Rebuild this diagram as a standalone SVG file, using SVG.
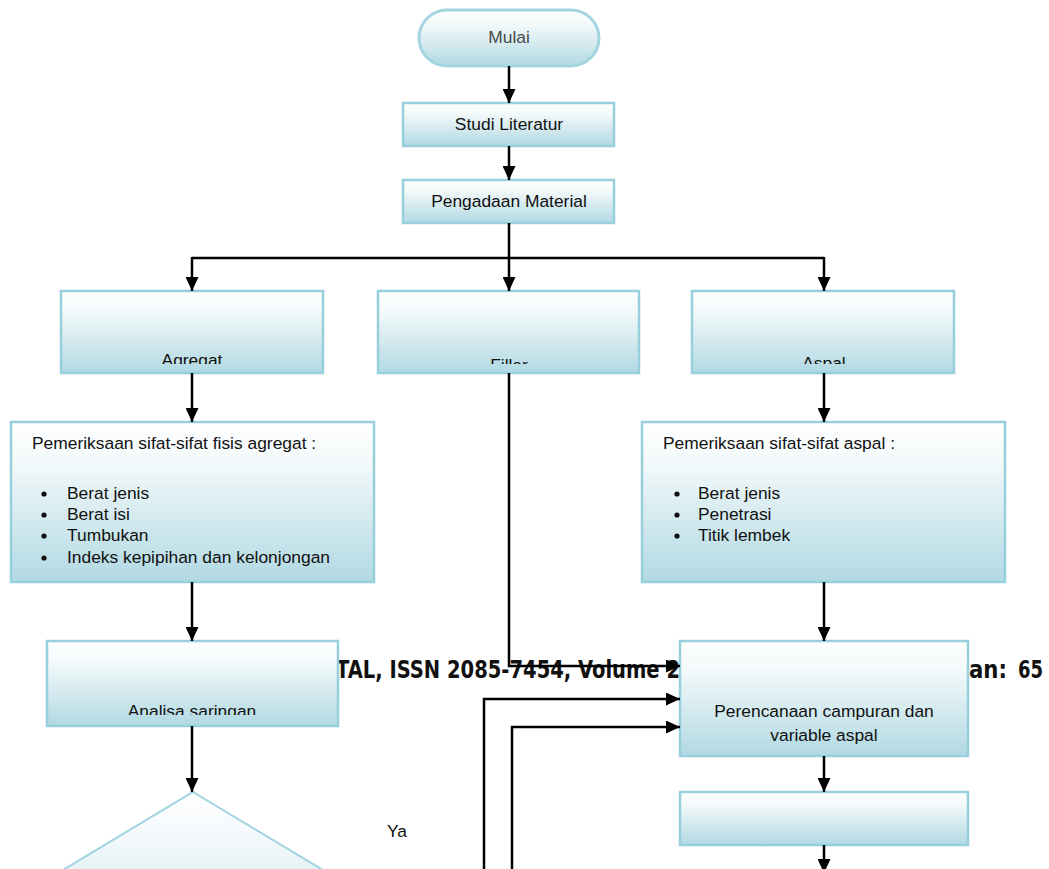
<svg xmlns="http://www.w3.org/2000/svg" width="1049" height="869" viewBox="0 0 1049 869">
<style>
.box{fill:url(#g);stroke:#98cfdc;stroke-width:2.5}
.t{font-family:"Liberation Sans",Arial,sans-serif;font-size:17.4px;fill:#111}
.c{text-anchor:middle}
.hd{font-family:"Liberation Sans Narrow","DejaVu Sans Condensed","Liberation Sans",sans-serif;font-weight:bold;font-size:25px;fill:#111}
.ln{fill:none;stroke:#000;stroke-width:2.5}
.ar{marker-end:url(#ah)}
</style>
<defs>
<linearGradient id="g" x1="0" y1="0" x2="0" y2="1">
<stop offset="0" stop-color="#ffffff"/>
<stop offset="0.25" stop-color="#f3f9fa"/>
<stop offset="1" stop-color="#b1d9e3"/>
</linearGradient>
<linearGradient id="gd" x1="0" y1="792" x2="0" y2="1032" gradientUnits="userSpaceOnUse">
<stop offset="0" stop-color="#ffffff"/>
<stop offset="0.15" stop-color="#f6fafc"/>
<stop offset="1" stop-color="#b1d9e3"/>
</linearGradient>
<marker id="ah" markerUnits="userSpaceOnUse" markerWidth="14" markerHeight="13" refX="14" refY="6.5" orient="auto">
<path d="M0,0 L14,6.5 L0,13 z" fill="#000"/>
</marker>
<clipPath id="c1"><rect x="40" y="280" width="960" height="84"/></clipPath>
<clipPath id="c2"><rect x="40" y="640" width="320" height="75"/></clipPath>
</defs>

<g id="header">
<text class="hd" x="336" y="678" textLength="344" lengthAdjust="spacingAndGlyphs">TAL, ISSN 2085-7454, Volume 2</text>
<text class="hd" x="969" y="678" textLength="38" lengthAdjust="spacingAndGlyphs">an:</text>
<text class="hd" x="1018" y="678" textLength="25" lengthAdjust="spacingAndGlyphs">65</text>
</g>

<g id="mulai">
<rect x="419" y="10" width="180" height="56" rx="28" ry="28" fill="url(#g)" stroke="#a3d5e0" stroke-width="3"/>
<text class="t c" x="509" y="43" style="fill:#4a4a4a">Mulai</text>
</g>
<g id="studi">
<rect class="box" x="403" y="103" width="211" height="43"/>
<text class="t c" x="509" y="130">Studi Literatur</text>
</g>
<g id="pengadaan">
<rect class="box" x="403" y="180" width="211" height="43"/>
<text class="t c" x="509" y="207">Pengadaan Material</text>
</g>
<g id="agregat">
<rect class="box" x="61" y="291" width="262" height="82"/>
<text class="t c" x="192" y="366" clip-path="url(#c1)">Agregat</text>
</g>
<g id="filler">
<rect class="box" x="378" y="291" width="261" height="82"/>
<text class="t c" x="509" y="371" clip-path="url(#c1)">Filler</text>
</g>
<g id="aspal">
<rect class="box" x="692" y="291" width="262" height="82"/>
<text class="t c" x="824" y="369" clip-path="url(#c1)">Aspal</text>
</g>
<g id="periksa-agregat">
<rect class="box" x="11" y="422" width="363" height="160"/>
<text class="t" x="32" y="449">Pemeriksaan sifat-sifat fisis agregat :</text>
<g fill="#111">
<circle cx="44" cy="494" r="2.6"/><circle cx="44" cy="515" r="2.6"/><circle cx="44" cy="536" r="2.6"/><circle cx="44" cy="558" r="2.6"/>
</g>
<text class="t" x="67" y="499">Berat jenis</text>
<text class="t" x="67" y="520">Berat isi</text>
<text class="t" x="67" y="541">Tumbukan</text>
<text class="t" x="67" y="563">Indeks kepipihan dan kelonjongan</text>
</g>
<g id="periksa-aspal">
<rect class="box" x="642" y="422" width="363" height="160"/>
<text class="t" x="663" y="449">Pemeriksaan sifat-sifat aspal :</text>
<g fill="#111">
<circle cx="677" cy="494" r="2.6"/><circle cx="677" cy="515" r="2.6"/><circle cx="677" cy="536" r="2.6"/>
</g>
<text class="t" x="698" y="499">Berat jenis</text>
<text class="t" x="698" y="520">Penetrasi</text>
<text class="t" x="698" y="541">Titik lembek</text>
</g>
<g id="analisa">
<rect class="box" x="47" y="641" width="291" height="85"/>
<text class="t c" x="192" y="717" clip-path="url(#c2)">Analisa saringan</text>
</g>
<g id="keputusan">
<polygon points="193,792 393,912 193,1032 -7,912" fill="url(#gd)" stroke="#9fd3df" stroke-width="2"/>
</g>
<g id="ya">
<text class="t" x="387" y="837">Ya</text>
</g>
<g id="perencanaan">
<rect class="box" x="680" y="641" width="288" height="115"/>
<text class="t c" x="824" y="717">Perencanaan campuran dan</text>
<text class="t c" x="824" y="741">variable aspal</text>
</g>
<g id="tahap-bawah">
<rect class="box" x="680" y="792" width="288" height="53"/>
</g>

<g id="connectors">
<path class="ln ar" d="M509,66 V103"/>
<path class="ln ar" d="M509,146 V180"/>
<path class="ln" d="M509,223 V258 M192,258 H824"/>
<path class="ln ar" d="M192,257 V291"/>
<path class="ln ar" d="M509,257 V291"/>
<path class="ln ar" d="M824,257 V291"/>
<path class="ln ar" d="M192,373 V422"/>
<path class="ln ar" d="M824,373 V422"/>
<path class="ln ar" d="M509,373 V666 H680"/>
<path class="ln ar" d="M192,582 V641"/>
<path class="ln ar" d="M824,582 V641"/>
<path class="ln ar" d="M192,726 V792"/>
<path class="ln ar" d="M484,880 V699 H680"/>
<path class="ln ar" d="M512,880 V727 H680"/>
<path class="ln ar" d="M824,756 V792"/>
<path class="ln ar" d="M824,845 V873"/>
</g>
</svg>
